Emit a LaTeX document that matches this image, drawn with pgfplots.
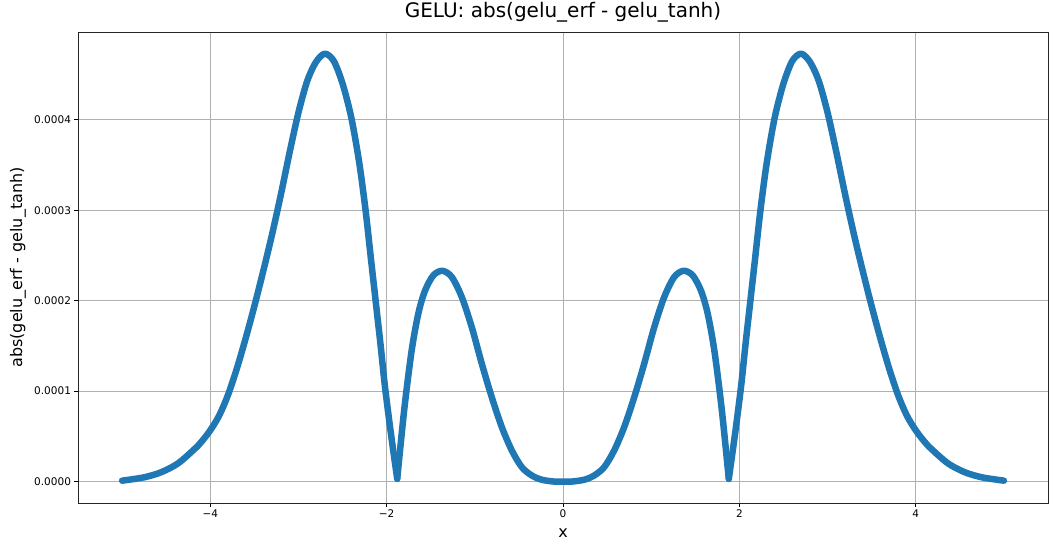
\documentclass[border=0pt]{standalone}
\usepackage{fontspec}
\setmainfont{DejaVu Sans}
\usepackage{pgfplots}
\pgfplotsset{compat=1.18}
\definecolor{mplblue}{HTML}{1F77B4}
\definecolor{gridgray}{HTML}{B0B0B0}
\pgfplotsset{gelu/.style={mplblue, line width=6.5pt, smooth, tension=0.5, line cap=round, line join=round, mark=none}}
\begin{document}
\begin{tikzpicture}
\useasboundingbox (-78pt,-41pt) rectangle (977pt,503pt);
\begin{axis}[
  at={(0pt,0pt)}, anchor=south west,
  scale only axis, width=970pt, height=471pt,
  xmin=-5.5, xmax=5.5,
  ymin=-0.0000237, ymax=0.000497,
  xtick={-4,-2,0,2,4},
  xticklabels={−4,−2,0,2,4},
  ytick={0,0.0001,0.0002,0.0003,0.0004},
  yticklabels={0.0000,0.0001,0.0002,0.0003,0.0004},
  scaled y ticks=false,
  xtick pos=lower, ytick pos=left,
  tick align=outside, major tick length=3.5pt,
  tick style={black, line width=0.8pt},
  every tick label/.append style={font=\fontsize{10.5}{12}\selectfont},
  grid=major,
  major grid style={gridgray, line width=0.8pt},
  axis line style={black!85, line width=0.8pt},
  title={GELU: abs(gelu\_erf - gelu\_tanh)},
  title style={font=\fontsize{20}{24}\selectfont, at={(axis description cs:0.5,1.0297)}, anchor=center},
  xlabel={x},
  xlabel style={font=\fontsize{16}{19}\selectfont, at={(axis description cs:0.5,-0.0637)}, anchor=center},
  ylabel={abs(gelu\_erf - gelu\_tanh)},
  ylabel style={font=\fontsize{16}{19}\selectfont, at={(axis description cs:-0.0619,0.5)}, anchor=center},
  clip=false,
]
\addplot[gelu] coordinates {
(-5.0,0.0000010) (-4.75,0.0000047) (-4.557,0.0000103) (-4.367,0.0000200) (-4.178,0.0000360)
(-4.1,0.0000440) (-4.0,0.0000567) (-3.9,0.0000728) (-3.8,0.0000955) (-3.7,0.0001245) (-3.6,0.0001579)
(-3.5,0.0001939) (-3.4,0.0002324) (-3.3,0.0002729) (-3.2,0.0003170) (-3.1,0.0003640)
(-3.0,0.0004080) (-2.9,0.0004430) (-2.8,0.0004640) (-2.70,0.0004730) (-2.60,0.0004650)
(-2.50,0.0004400) (-2.40,0.0004020) (-2.31,0.0003520) (-2.239,0.0003000) (-2.18,0.0002480)
(-2.125,0.0002000) (-2.07,0.0001520) (-2.019,0.0001050) (-1.95,0.0000520) (-1.88,0.0000030)
};
\addplot[gelu] coordinates {
(-1.88,0.0000030) (-1.80,0.0000800) (-1.716,0.0001450) (-1.64,0.0001860) (-1.565,0.0002110)
(-1.47,0.0002280) (-1.367,0.0002330) (-1.26,0.0002260) (-1.148,0.0002040) (-1.034,0.0001705)
(-0.92,0.0001300) (-0.807,0.0000930) (-0.693,0.0000600) (-0.58,0.0000343) (-0.466,0.0000158)
(-0.352,0.0000066) (-0.24,0.0000020) (-0.1,0.0000000) (0.0,0.0000000) (0.1,0.0000000)
(0.24,0.0000020) (0.352,0.0000066) (0.466,0.0000158) (0.58,0.0000343) (0.693,0.0000600)
(0.807,0.0000930) (0.92,0.0001300) (1.034,0.0001705) (1.148,0.0002040) (1.26,0.0002260)
(1.367,0.0002330) (1.47,0.0002280) (1.565,0.0002110) (1.64,0.0001860) (1.716,0.0001450)
(1.80,0.0000800) (1.88,0.0000030)
};
\addplot[gelu] coordinates {
(1.88,0.0000030) (1.95,0.0000520) (2.019,0.0001050) (2.07,0.0001520) (2.125,0.0002000)
(2.18,0.0002480) (2.239,0.0003000) (2.31,0.0003520) (2.40,0.0004020) (2.50,0.0004400)
(2.60,0.0004650) (2.70,0.0004730) (2.8,0.0004640) (2.9,0.0004430) (3.0,0.0004080)
(3.1,0.0003640) (3.2,0.0003170) (3.3,0.0002729) (3.4,0.0002324) (3.5,0.0001939)
(3.6,0.0001579) (3.7,0.0001245) (3.8,0.0000955) (3.9,0.0000728) (4.0,0.0000567) (4.1,0.0000440)
(4.178,0.0000360) (4.367,0.0000200) (4.557,0.0000103) (4.75,0.0000047) (5.0,0.0000010)
};
\end{axis}
\end{tikzpicture}
\end{document}
